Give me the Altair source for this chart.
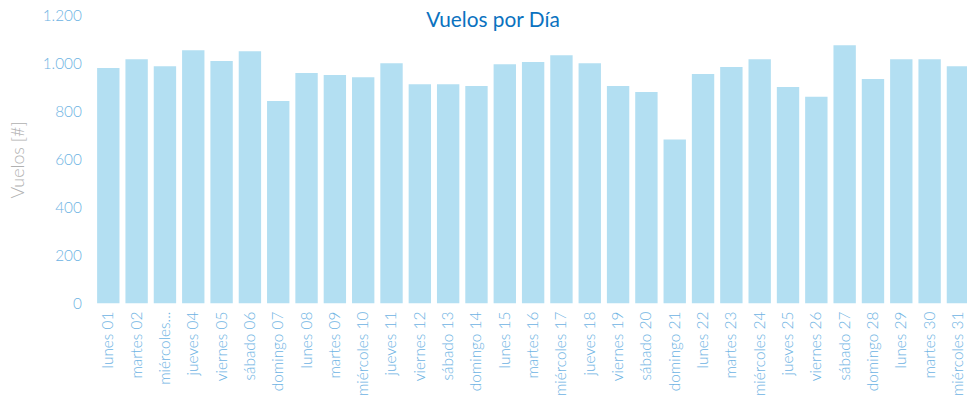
import altair as alt
import pandas as pd

dias = ["lunes 01", "martes 02", "miércoles 03", "jueves 04", "viernes 05", "sábado 06",
        "domingo 07", "lunes 08", "martes 09", "miércoles 10", "jueves 11", "viernes 12",
        "sábado 13", "domingo 14", "lunes 15", "martes 16", "miércoles 17", "jueves 18",
        "viernes 19", "sábado 20", "domingo 21", "lunes 22", "martes 23", "miércoles 24",
        "jueves 25", "viernes 26", "sábado 27", "domingo 28", "lunes 29", "martes 30",
        "miércoles 31"]
vuelos = [981, 1018, 989, 1055, 1010, 1051, 844, 960, 952, 943, 1001, 914,
          914, 906, 997, 1006, 1034, 1001, 906, 881, 683, 956, 985, 1018,
          902, 861, 1076, 935, 1018, 1018, 989]
y_ticks = [0, 200, 400, 600, 800, 1000, 1200]

df = pd.DataFrame({"dia": dias, "vuelos": vuelos})

FONT = "Lato"
LABEL_COLOR = "#6db3e3"

chart = alt.Chart(df).mark_bar(color="#b3dff2").encode(
    x=alt.X("dia:N", sort=dias, title=None,
            scale=alt.Scale(range=[0, 885], paddingInner=0.21, paddingOuter=0.1),
            axis=alt.Axis(labelAngle=-90, labelAlign="right", labelBaseline="middle",
                          labelFontSize=15.5, labelColor=LABEL_COLOR, labelFont=FONT,
                          labelFontWeight=300, labelPadding=8, ticks=False, domain=False,
                          labelLimit=200,
                          labelExpr="datum.value == 'miércoles 03' ? 'miércoles...' : datum.value")),
    y=alt.Y("vuelos:Q", title="Vuelos [#]",
            scale=alt.Scale(domain=[0, 1200], nice=False),
            axis=alt.Axis(values=y_ticks, grid=False, ticks=False, domain=False,
                          labelFontSize=15.5, labelColor=LABEL_COLOR, labelFont=FONT,
                          labelFontWeight=300, labelPadding=13,
                          labelExpr="replace(format(datum.value, ','), ',', '.')",
                          titleFont=FONT, titleFontSize=18, titleFontWeight=300,
                          titleColor="#b0b0b0", titlePadding=15)),
).properties(
    width=880,
    height=290,
    title=alt.TitleParams("Vuelos por Día", font=FONT, fontSize=21, fontWeight="normal",
                          color="#0a72c0", anchor="middle", dx=-38, dy=27),
    autosize=alt.AutoSizeParams(type="none"),
    padding={"left": 87, "top": 6, "right": 0, "bottom": 99},
).configure_view(stroke=None)

chart.save("out.html", embed_options={"renderer": "svg", "actions": False})
